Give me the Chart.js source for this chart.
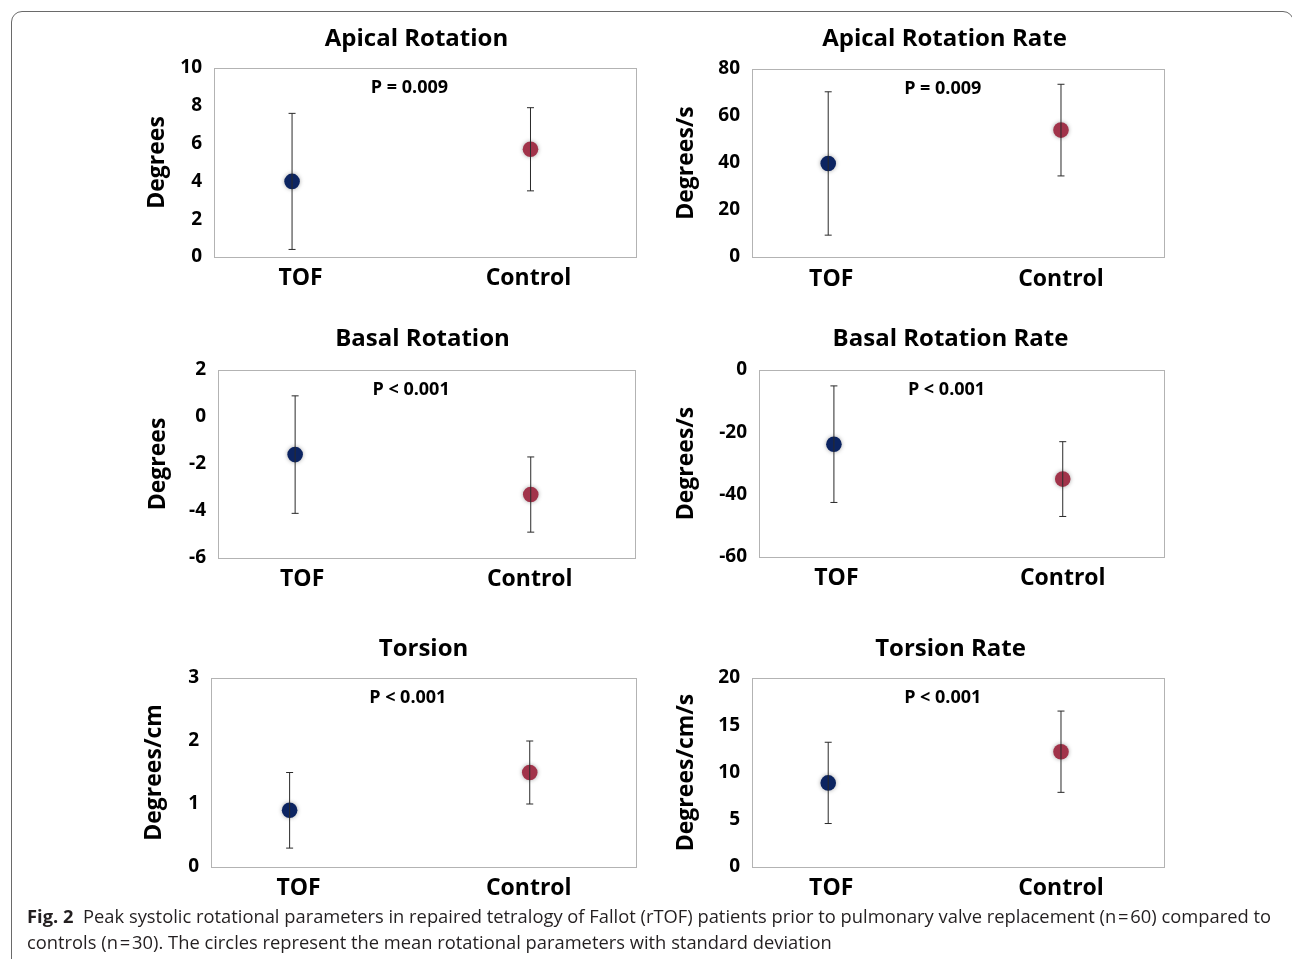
<!DOCTYPE html>
<html><head><meta charset="utf-8">
<script src="https://cdn.jsdelivr.net/npm/chart.js@4.4.0/dist/chart.umd.min.js"></script>
<style>
html,body{margin:0;padding:0;background:#fff;}
body{width:1292px;height:959px;position:relative;overflow:hidden;font-family:'Open Sans',sans-serif;}
.frame{position:absolute;left:11px;top:11px;width:1283px;height:1000px;border:1px solid #6a6a6a;border-radius:11px;box-sizing:border-box;}
.panel{position:absolute;}
.panel canvas{display:block;}
.caption{position:absolute;left:27px;top:903px;font-family:'Open Sans',sans-serif;font-size:17.5px;color:#231f20;transform-origin:0 0;line-height:26px;}
.caption div{white-space:nowrap;display:inline-block;}
</style></head><body>
<div class="frame"></div>
<div id="panels"></div>
<div class="caption" id="cap"><div id="cap1"><b>Fig. 2</b>&nbsp; Peak systolic rotational parameters in repaired tetralogy of Fallot (rTOF) patients prior to pulmonary valve replacement (n&#8202;=&#8202;60) compared to</div><br><div id="cap2">controls (n&#8202;=&#8202;30). The circles represent the mean rotational parameters with standard deviation</div></div>
<script>
// ---------- data ----------
const categories = ['TOF', 'Control'];
const panelTitles = ['Apical Rotation', 'Apical Rotation Rate', 'Basal Rotation', 'Basal Rotation Rate', 'Torsion', 'Torsion Rate'];
const yTitles = ['Degrees', 'Degrees/s', 'Degrees', 'Degrees/s', 'Degrees/cm', 'Degrees/cm/s'];
const pLabels = ['P = 0.009', 'P = 0.009', 'P < 0.001', 'P < 0.001', 'P < 0.001', 'P < 0.001'];
const tofMean = [4.0, 39.8, -1.6, -23.8, 0.9, 8.9];
const tofSD = [3.6, 30.5, 2.5, 18.7, 0.6, 4.3];
const controlMean = [5.7, 54.0, -3.3, -35.0, 1.5, 12.2];
const controlSD = [2.2, 19.5, 1.6, 12.0, 0.5, 4.3];
const yMin = [0, 0, -6, -60, 0, 0];
const yMax = [10, 80, 2, 0, 3, 20];
const yStep = [2, 20, 2, 20, 1, 5];

// ---------- styling / layout ----------
const groupColors = ['#0c2461', '#a1334a'];
const FONT = "'Open Sans'";
const layout = [
  {l:214,   t:68.3, r:635.7,  b:257.3, tx:416.7, ty:39,  yx:158,   xy:278.8, shift:[8.5,-2]},
  {l:752.3, t:69,   r:1164.3, b:256.7, tx:944.3, ty:39,  yx:686.7, xy:278.8, shift:[3,0]},
  {l:218.3, t:370,  r:635,    b:557.7, tx:422.7, ty:339, yx:158.3, xy:578.8, shift:[7,-1]},
  {l:759.3, t:370,  r:1164.3, b:557.3, tx:950.7, ty:339, yx:686.7, xy:578.8, shift:[2.5,0]},
  {l:211,   t:678.3,r:635.7,  b:866.7, tx:423.3, ty:649, yx:155,   xy:888,   shift:[9,-1]},
  {l:752.3, t:678.3,r:1164.3, b:866.7, tx:950.7, ty:649, yx:686.7, xy:888,   shift:[3,0]}
];
const xMin = -0.3274, xMax = 1.4425;
const titleSize = 24, labelSize = 23, lh = titleSize * 1.2, llh = labelSize * 1.2;

const areaBorder = {
  id: 'areaBorder',
  beforeDatasetsDraw(chart) {
    const {ctx, chartArea: a} = chart;
    ctx.save();
    ctx.strokeStyle = '#b3b3b3';
    ctx.lineWidth = 1;
    ctx.strokeRect(Math.round(a.left) + 0.5, Math.round(a.top) + 0.5, Math.round(a.right - a.left), Math.round(a.bottom - a.top));
    ctx.restore();
  }
};
const pText = {
  id: 'pText',
  afterDatasetsDraw(chart, args, opts) {
    const {ctx, chartArea: a} = chart;
    ctx.save();
    ctx.font = 'bold 18px ' + FONT;
    ctx.fillStyle = '#000';
    ctx.textAlign = 'center';
    ctx.textBaseline = 'middle';
    ctx.fillText(opts.text, a.left + 0.463 * (a.right - a.left), a.top + 19.5);
    ctx.restore();
  }
};
const glow = {
  id: 'glow',
  beforeDatasetDraw(chart, args) {
    if (args.meta.type === 'scatter') {
      chart.ctx.save();
      chart.ctx.shadowColor = 'rgba(0,0,0,0.35)';
      chart.ctx.shadowBlur = 4;
    }
  },
  afterDatasetDraw(chart, args) {
    if (args.meta.type === 'scatter') chart.ctx.restore();
  }
};

const host = document.getElementById('panels');
layout.forEach((L, i) => {
  const bx = Math.round(L.yx - llh / 2);
  const by = Math.round(L.ty - lh / 2);
  const bw = Math.round(2 * (L.tx - bx));
  const xAxisH = 52;
  const bh = Math.round(L.b) + xAxisH - by;
  const yW = Math.round(L.l) - bx;
  const rW = bx + bw - Math.round(L.r);
  const titlePadB = Math.round(L.t) - by - lh;
  const xPad = L.xy - L.b - llh / 2;
  const unitsPerPx = (xMax - xMin) / (Math.round(L.r) - Math.round(L.l));

  const div = document.createElement('div');
  div.className = 'panel';
  Object.assign(div.style, {left: bx + 'px', top: by + 'px', width: bw + 'px', height: bh + 'px'});
  const cv = document.createElement('canvas');
  div.appendChild(cv);
  host.appendChild(div);

  const means = [tofMean[i], controlMean[i]];
  const sds = [tofSD[i], controlSD[i]];
  const errSets = categories.map((c, k) => ({
    type: 'line',
    label: c + ' SD',
    order: 0,
    data: [{x: k, y: means[k] - sds[k]}, {x: k, y: means[k] + sds[k]}],
    borderColor: '#2a2a2a',
    borderWidth: 1,
    pointStyle: 'line',
    pointRadius: 3.5,
    pointBorderWidth: 1,
    pointBorderColor: '#2a2a2a',
    pointHoverRadius: 3.5,
    fill: false
  }));
  const dots = {
    type: 'scatter',
    label: 'mean',
    order: 1,
    data: categories.map((c, k) => ({x: k, y: means[k]})),
    backgroundColor: groupColors,
    borderWidth: 0,
    pointRadius: 7.8,
    pointHoverRadius: 7.8
  };

  new Chart(cv, {
    type: 'scatter',
    data: {datasets: [...errSets, dots]},
    options: {
      responsive: true,
      maintainAspectRatio: false,
      animation: false,
      devicePixelRatio: 1,
      layout: {padding: 0},
      plugins: {
        legend: {display: false},
        tooltip: {enabled: false},
        title: {
          display: true,
          text: panelTitles[i],
          color: '#000',
          font: {family: FONT, size: titleSize, weight: 'bold', lineHeight: 1.2},
          padding: {top: 0, bottom: titlePadB}
        },
        pText: {text: pLabels[i]}
      },
      scales: {
        x: {
          type: 'linear',
          min: xMin,
          max: xMax,
          grid: {display: false, drawTicks: false},
          border: {display: false},
          afterBuildTicks(s) { s.ticks = categories.map((c, k) => ({value: k + L.shift[k] * unitsPerPx})); },
          afterFit(s) { s.height = xAxisH; },
          ticks: {
            padding: xPad,
            color: '#000',
            font: {family: FONT, size: labelSize, weight: 'bold', lineHeight: 1.2},
            callback: (v, idx) => categories[idx],
            maxRotation: 0,
            autoSkip: false
          }
        },
        y: {
          type: 'linear',
          position: 'left',
          min: yMin[i],
          max: yMax[i],
          grid: {display: false, drawTicks: false},
          border: {display: false},
          afterFit(s) { s.width = yW; },
          ticks: {
            stepSize: yStep[i],
            padding: 12,
            color: '#000',
            font: {family: FONT, size: 19, weight: 'bold'}
          },
          title: {
            display: true,
            text: yTitles[i],
            color: '#000',
            padding: 0,
            font: {family: FONT, size: labelSize, weight: 'bold', lineHeight: 1.2}
          }
        },
        yr: {
          type: 'linear',
          position: 'right',
          display: true,
          grid: {display: false, drawTicks: false},
          border: {display: false},
          ticks: {display: false},
          afterFit(s) { s.width = rW; }
        }
      }
    },
    plugins: [areaBorder, pText, glow]
  });
});

// caption fit
const c1 = document.getElementById('cap1');
const w = c1.getBoundingClientRect().width;
const cap = document.getElementById('cap');
cap.style.transform = 'scaleX(' + (1244 / w) + ')';
</script>
</body></html>
